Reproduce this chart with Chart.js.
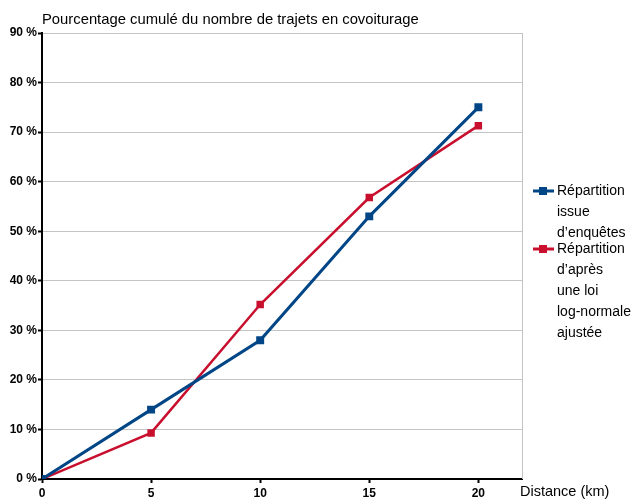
<!DOCTYPE html>
<html>
<head>
<meta charset="utf-8">
<script src="https://cdn.jsdelivr.net/npm/chart.js@4.4.0/dist/chart.umd.min.js"></script>
<style>
  html, body { margin: 0; padding: 0; background: #fff; }
  #wrap { width: 634px; height: 499px; position: relative; }
</style>
</head>
<body>
<div id="wrap"><canvas id="chart" width="634" height="499"></canvas></div>
<script>
// data
const distances = [0, 5, 10, 15, 20];
const surveyValues = [0, 14, 28, 53, 75];
const logNormalValues = [0, 9.3, 35.2, 56.8, 71.3];
const seriesLabels = ["Répartition issue d’enquêtes", "Répartition d’après une loi log-normale ajustée"];
const legendLines = [
  ["Répartition", "issue", "d’enquêtes"],
  ["Répartition", "d’après", "une loi", "log-normale", "ajustée"]
];
const yTitle = "Pourcentage cumulé du nombre de trajets en covoiturage";
const xTitle = "Distance (km)";

const blue = '#004586';
const red = '#c8102e';
const colors = [blue, red];
const font = '"Liberation Sans", Arial, sans-serif';

const toPoints = (values) => values.map((v, i) => ({ x: distances[i], y: v }));

// axis titles, right border and the wrapped legend
const extras = {
  id: 'extras',
  afterDraw(chart) {
    const ctx = chart.ctx;
    const area = chart.chartArea;
    ctx.save();
    ctx.strokeStyle = '#c4c4c4';
    ctx.lineWidth = 1;
    ctx.beginPath();
    ctx.moveTo(area.right + 0.5, area.top);
    ctx.lineTo(area.right + 0.5, area.bottom);
    ctx.stroke();

    ctx.fillStyle = '#000';
    ctx.textBaseline = 'middle';
    ctx.textAlign = 'left';
    ctx.font = '14.8px ' + font;
    ctx.fillText(yTitle, 42, 20);
    ctx.font = '14.5px ' + font;
    ctx.fillText(xTitle, area.right - 2, 492);

    ctx.font = '14px ' + font;
    let y = 191;
    legendLines.forEach((lines, i) => {
      ctx.strokeStyle = colors[i];
      ctx.lineWidth = 3;
      ctx.beginPath();
      ctx.moveTo(533, y);
      ctx.lineTo(554, y);
      ctx.stroke();
      ctx.fillStyle = colors[i];
      ctx.fillRect(539, y - 4, 8, 8);
      ctx.fillStyle = '#000';
      lines.forEach((t, j) => ctx.fillText(t, 557, y + j * 21));
      y += lines.length * 21 - 5;
    });
    ctx.restore();
  }
};

new Chart(document.getElementById('chart'), {
  type: 'line',
  data: {
    datasets: [
      {
        label: seriesLabels[0],
        data: toPoints(surveyValues),
        borderColor: blue,
        backgroundColor: blue,
        borderWidth: 3,
        pointStyle: 'rect',
        pointRadius: 3.5,
        tension: 0
      },
      {
        label: seriesLabels[1],
        data: toPoints(logNormalValues),
        borderColor: red,
        backgroundColor: red,
        borderWidth: 2.5,
        pointStyle: 'rect',
        pointRadius: 3.5,
        tension: 0
      }
    ]
  },
  options: {
    responsive: false,
    animation: false,
    layout: { padding: { top: 33, right: 112, left: 0, bottom: 0 } },
    plugins: {
      legend: { display: false },
      tooltip: { enabled: false }
    },
    scales: {
      x: {
        type: 'linear',
        min: 0,
        max: 22,
        afterFit: (s) => { s.height = 20; },
        afterBuildTicks: (s) => { s.ticks = distances.map(v => ({ value: v })); },
        border: { color: '#000', width: 2 },
        grid: { drawOnChartArea: false, tickLength: 4, tickColor: '#000', tickWidth: 2 },
        ticks: {
          color: '#000',
          padding: 3,
          maxRotation: 0,
          font: { family: font, size: 12, weight: 'bold' }
        }
      },
      y: {
        min: 0,
        max: 90,
        afterFit: (s) => { s.width = 42; },
        border: { color: '#000', width: 2 },
        grid: { color: '#c4c4c4', lineWidth: 1, tickLength: 4, tickColor: '#000', tickWidth: 2 },
        ticks: {
          stepSize: 10,
          color: '#000',
          padding: 1,
          font: { family: font, size: 12, weight: 'bold' },
          callback: (v) => v + ' %'
        }
      }
    }
  },
  plugins: [extras]
});
</script>
</body>
</html>
